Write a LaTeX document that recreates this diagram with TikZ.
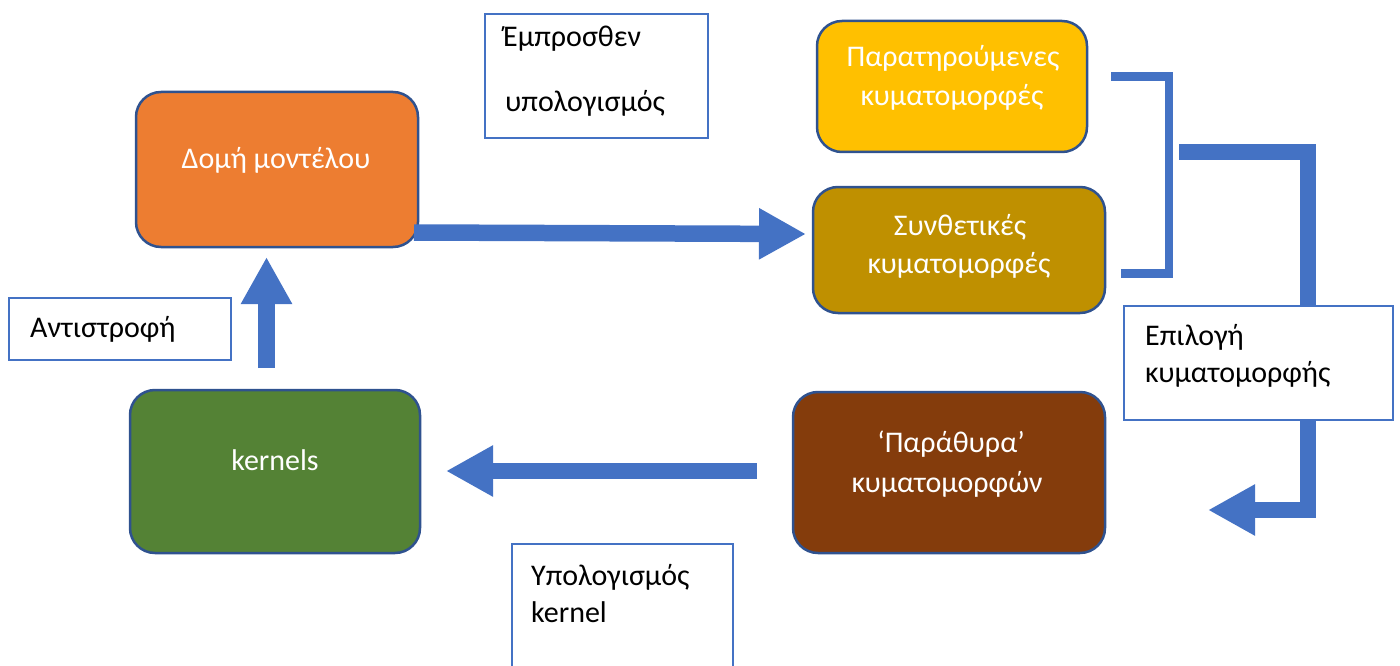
\documentclass[tikz,border=0pt]{standalone}
\usepackage{fontspec}
\setmainfont{Carlito}
\usetikzlibrary{arrows.meta}

\definecolor{flowblue}{HTML}{4472C4}
\definecolor{edgeblue}{HTML}{2F528F}
\definecolor{stageorange}{HTML}{ED7D31}
\definecolor{stageyellow}{HTML}{FFC000}
\definecolor{stagegold}{HTML}{BF9000}
\definecolor{stagebrown}{HTML}{843C0C}
\definecolor{stagegreen}{HTML}{548235}

\begin{document}
\begin{tikzpicture}[x=1pt,y=-1pt,
  stagebox/.style={draw=edgeblue, line width=2.5pt, rounded corners=25pt,
    inner sep=0pt, minimum width=#1},
  notebox/.style={draw=flowblue, line width=2.5pt, fill=white, inner sep=0pt},
  wtxt/.style={text=white, font=\fontsize{30}{36}\selectfont, anchor=base, inner sep=0pt},
  btxt/.style={text=black, font=\fontsize{30}{36}\selectfont, anchor=base west, inner sep=0pt},
  flow/.style={draw=flowblue, line width=16.5pt,
    -{Triangle[length=47pt,width=48pt]}},
  brace/.style={draw=flowblue, line width=8.5pt},
]
\useasboundingbox (0,0) rectangle (1400,666);
\clip (0,0) rectangle (1400,666);

% process stages
\node[stagebox=282pt, fill=stageorange, minimum height=155pt] (dom) at (277,169.5) {};
\node[stagebox=270pt, fill=stageyellow, minimum height=131pt] (obs) at (952,86.5) {};
\node[stagebox=292pt, fill=stagegold, minimum height=126pt] (syn) at (959,250) {};
\node[stagebox=312pt, fill=stagebrown, minimum height=161pt] (win) at (949,472.5) {};
\node[stagebox=290pt, fill=stagegreen, minimum height=163pt] (ker) at (275,471.5) {};

\node[wtxt] (domT) at (276,168) {Δομή μοντέλου};
\node[wtxt] (obsT1) at (953,67) {Παρατηρούμενες};
\node[wtxt] (obsT2) at (952,106) {κυματομορφές};
\node[wtxt] (synT1) at (960,235) {Συνθετικές};
\node[wtxt] (synT2) at (959,273) {κυματομορφές};
\node[wtxt] (winT1) at (951,452) {‘Παράθυρα’};
\node[wtxt] (winT2) at (947,492) {κυματομορφών};
\node[wtxt] (kerT) at (275,470) {kernels};

% connector end points
\coordinate (fwdS) at (414,232.5);
\coordinate (fwdE) at (806,234);
\coordinate (invS) at (266.5,368);
\coordinate (invE) at (266.5,257);
\coordinate (kerS) at (757,471);
\coordinate (kerE) at (446,471);
\coordinate (brA) at (1111,76.5);
\coordinate (brB) at (1169,76.5);
\coordinate (brC) at (1169,273.5);
\coordinate (brD) at (1121,273.5);
\coordinate (selS) at (1179,152);
\coordinate (selC1) at (1308,152);
\coordinate (selC2) at (1308,510);
\coordinate (selE) at (1208,510);

% arrows
\draw[flow] (fwdS) -- (fwdE);
\draw[flow] (invS) -- (invE);
\draw[flow] (kerS) -- (kerE);
\draw[brace] (brA) -- (brB) -- (brC) -- (brD);
\draw[flow] (selS) -- (selC1) -- (selC2) -- (selE);

% step labels
\node[notebox, minimum width=223pt, minimum height=124pt] (fwd) at (596.5,76) {};
\node[notebox, minimum width=222pt, minimum height=62pt] (inv) at (120,329) {};
\node[notebox, minimum width=269pt, minimum height=114pt] (sel) at (1258.5,363) {};
\node[notebox, minimum width=221pt, minimum height=160pt] (kcomp) at (622.5,624) {};

\node[btxt] (fwdT1) at (503,47) {Έμπροσθεν};
\node[btxt] (fwdT2) at (505,112) {υπολογισμός};
\node[btxt] (invT) at (30,337) {Αντιστροφή};
\node[btxt] (selT1) at (1145,345) {Επιλογή};
\node[btxt] (selT2) at (1145,382) {κυματομορφής};
\node[btxt] (kcompT1) at (531,585) {Υπολογισμός};
\node[btxt] (kcompT2) at (531,622) {kernel};
\end{tikzpicture}
\end{document}
